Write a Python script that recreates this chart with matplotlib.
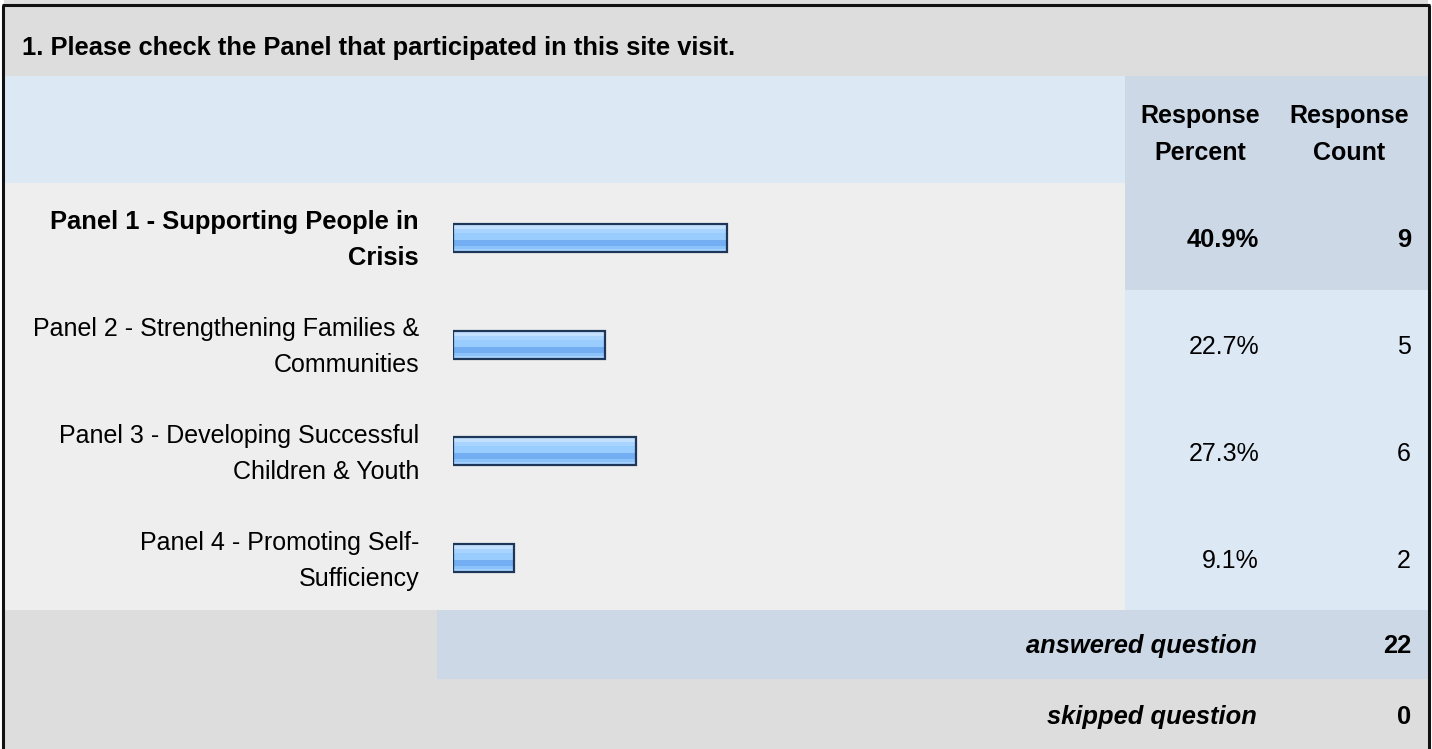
import matplotlib
matplotlib.use("Agg")
import matplotlib.pyplot as plt
from matplotlib.patches import Rectangle

plt.rcParams["font.family"] = ["Liberation Sans", "DejaVu Sans"]

# ---- data ----
title = "1. Please check the Panel that participated in this site visit."
col_headers = ["Response\nPercent", "Response\nCount"]
categories = [
    "Panel 1 - Supporting People in\nCrisis",
    "Panel 2 - Strengthening Families &\nCommunities",
    "Panel 3 - Developing Successful\nChildren & Youth",
    "Panel 4 - Promoting Self-\nSufficiency",
]
percents = [40.9, 22.7, 27.3, 9.1]
counts = [9, 5, 6, 2]
footer_labels = ["answered question", "skipped question"]
footer_values = [22, 0]

# ---- layout (pixels) ----
W, H = 1432, 749
FS = 18    # pt, regular text
FSB = 18.4  # pt, bold text
C_GRAY = "#DDDDDD"
C_LBLUE = "#DDE8F5"
C_DBLUE = "#CCD8E6"
C_ROW = "#EEEEEE"

fig = plt.figure(figsize=(W / 100, H / 100), dpi=100)
ax = fig.add_axes([0, 0, 1, 1])
ax.set_xlim(0, W)
ax.set_ylim(H, 0)
ax.axis("off")

def rect(x0, y0, x1, y1, c):
    ax.add_patch(Rectangle((x0, y0), x1 - x0, y1 - y0, facecolor=c, edgecolor="none", zorder=0))

L, R = 4, 1428
X_LABEL_END = 437
X_PCT = 1125
Y_TITLE_END = 76
Y_HEAD_END = 183
ROW_H = 106.75
Y_ROWS_END = Y_HEAD_END + ROW_H * len(categories)
Y_ANS_END = 679

rect(L, 0, R, Y_TITLE_END, C_GRAY)
rect(L, Y_TITLE_END, X_PCT, Y_HEAD_END, C_LBLUE)
rect(X_PCT, Y_TITLE_END, R, Y_HEAD_END, C_DBLUE)
rect(L, Y_HEAD_END, X_PCT, Y_ROWS_END, C_ROW)
for i in range(len(categories)):
    y0 = Y_HEAD_END + i * ROW_H
    rect(X_PCT, y0, R, y0 + ROW_H, C_DBLUE if i == 0 else C_LBLUE)
rect(L, Y_ROWS_END, R, H, C_GRAY)
rect(X_LABEL_END, Y_ROWS_END, R, Y_ANS_END, C_DBLUE)

# outer border
ax.plot([3, 3], [5, H], color="#111111", lw=2.2, solid_capstyle="butt", zorder=5)
ax.plot([1429, 1429], [5, H], color="#111111", lw=2.2, solid_capstyle="butt", zorder=5)
ax.plot([2, 1430], [5, 5], color="#111111", lw=2.2, solid_capstyle="butt", zorder=5)

# title
ax.text(22, 48, title, fontsize=FSB, fontweight="bold", ha="left", va="center")

# column headers
LINE = 37
for cx, hd in zip([1200, 1349], col_headers):
    lines = hd.split("\n")
    for k, ln in enumerate(lines):
        ax.text(cx, 116 + k * LINE, ln, fontsize=FS, fontweight="bold", ha="center", va="center")

# rows
for i, (cat, p, c) in enumerate(zip(categories, percents, counts)):
    yc = Y_HEAD_END + (i + 0.5) * ROW_H + 4
    bold = i == 0
    w = "bold" if bold else "normal"
    fs = FSB if bold else FS
    lines = cat.split("\n")
    n = len(lines)
    for k, ln in enumerate(lines):
        ax.text(419, yc + (k - (n - 1) / 2) * 36, ln, fontsize=fs, fontweight=w, ha="right", va="center")
    ax.text(1259, yc, f"{p:.1f}%", fontsize=fs, fontweight=w, ha="right", va="center")
    ax.text(1411, yc, f"{c}", fontsize=fs, fontweight=w, ha="right", va="center")

# footer
for j, (lab, v) in enumerate(zip(footer_labels, footer_values)):
    yc = [646, 717][j]
    ax.text(1257, yc, lab, fontsize=FSB, fontweight="bold", style="italic", ha="right", va="center")
    ax.text(1411, yc, f"{v}", fontsize=FSB, fontweight="bold", ha="right", va="center")

# bars axes: 0..100 percent mapped to pixel 453..1123
BX0, BXW = 453, 670
bx = fig.add_axes([BX0 / W, 0, BXW / W, 1])
bx.set_xlim(0, 100)
bx.set_ylim(H, 0)
bx.axis("off")
bx.patch.set_alpha(0)

BAR_H = 30
stripes = [  # (offset of stripe top from bar top, height, color)
    (0, 30, "#99CCFF"),
    (2, 4, "#C4E0FF"),
    (6, 4, "#A8D4FF"),
    (17, 6, "#74AEF2"),
    (23, 3, "#8CC2FA"),
    (26, 2, "#A6D2FF"),
]
for i, p in enumerate(percents):
    yc = Y_HEAD_END + (i + 0.5) * ROW_H + 1.5
    top = yc - BAR_H / 2
    for off, h, col in stripes:
        bx.barh(top + off + h / 2, p, height=h, left=0, color=col, edgecolor="none", zorder=2)
    bx.barh(yc, p, height=BAR_H - 2, left=0, fill=False, edgecolor="#1E3658", linewidth=1.6, zorder=3)

fig.savefig("out.png", dpi=100)
